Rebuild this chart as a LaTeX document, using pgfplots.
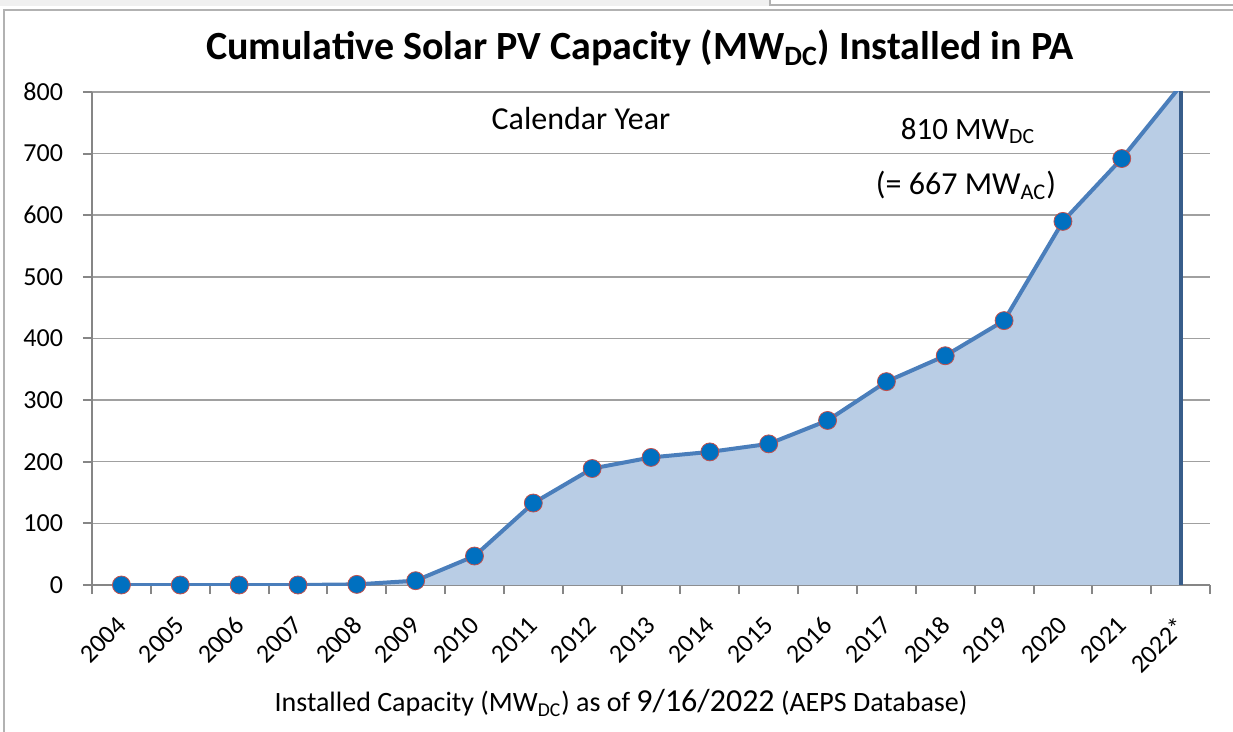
\documentclass[border=0pt]{standalone}
\usepackage{pgfplots}
\pgfplotsset{compat=1.18}
\usepackage{fontspec}
\setmainfont{Carlito}
\definecolor{areafill}{HTML}{B9CDE5}
\definecolor{linecol}{HTML}{4A7EBB}
\definecolor{edgecol}{HTML}{385D8A}
\definecolor{markfill}{HTML}{0070C0}
\definecolor{markdraw}{HTML}{C0504D}
\definecolor{axgray}{HTML}{868686}
\definecolor{gridgray}{HTML}{A0A0A0}
\begin{document}
\begin{tikzpicture}[x=0.5bp,y=0.5bp]
\useasboundingbox (0,0) rectangle (1233,731);
\begin{scope}
\clip (0,0) rectangle (1233,731);
\fill[gray!12] (0,731) rectangle (770,725);
\draw[gray!60, line width=0.8bp] (770,740) -- (770,726) -- (1240,726);
\draw[gray!60, line width=1bp] (4,-10) -- (4,721) -- (1240,721);
\end{scope}
\coordinate (O) at (92,146);
\begin{axis}[
  at={(O)}, anchor=south west,
  scale only axis, width=559bp, height=246.5bp,
  xmin=-0.5, xmax=18.5, ymin=0, ymax=800,
  axis x line=bottom, axis y line=left,
  axis line style={-, draw=axgray, line width=1bp},
  ytick={0,100,...,800},
  ymajorgrids, grid style={gridgray, line width=0.75bp},
  xtick={-0.5,0.5,...,18.5}, xticklabels={,,,,,,,,,,,,,,,,,,,,},
  extra x ticks={0,...,18},
  extra x tick labels={2004,2005,2006,2007,2008,2009,2010,2011,2012,2013,2014,2015,2016,2017,2018,2019,2020,2021,2022*},
  extra x tick style={major tick length=0pt, grid=none,
     tick label style={xshift=-3bp, yshift=-10bp, rotate=45, anchor=north east, font=\fontsize{13bp}{15bp}\selectfont}},
  tick align=outside, major tick length=4.5bp,
  tick style={draw=axgray, line width=1bp},
  yticklabel style={font=\fontsize{13bp}{15bp}\selectfont, xshift=-6.5bp},
  /pgf/number format/assume math mode=true,
  clip=true,
]
\addplot[fill=areafill, draw=none] coordinates {
(0,0) (1,0) (2,0) (3,0) (4,1) (5,7) (6,47) (7,133) (8,189) (9,207) (10,216) (11,229) (12,267) (13,330) (14,372) (15,429) (16,590) (17,692) (18,810)} \closedcycle;
\addplot[draw=edgecol, line width=2bp] coordinates {(18,0) (18,810)};
\addplot[draw=linecol, line width=2bp] coordinates {
(0,0) (1,0) (2,0) (3,0) (4,1) (5,7) (6,47) (7,133) (8,189) (9,207) (10,216) (11,229) (12,267) (13,330) (14,372) (15,429) (16,590) (17,692) (18,810)};
\addplot[only marks, mark=*, mark size=4.5bp, mark options={fill=markfill, draw=markdraw, line width=0.4bp}] coordinates {
(0,0) (1,0) (2,0) (3,0) (4,1) (5,7) (6,47) (7,133) (8,189) (9,207) (10,216) (11,229) (12,267) (13,330) (14,372) (15,429) (16,590) (17,692)};
\end{axis}
\node[font=\fontsize{20bp}{24bp}\selectfont\bfseries] at (640,683) {Cumulative Solar PV Capacity (MW\textsubscript{DC}) Installed in PA};
\node[font=\fontsize{16bp}{18bp}\selectfont] at (581,612) {Calendar Year};
\node[font=\fontsize{15.5bp}{18bp}\selectfont] at (968,600) {810 MW\textsubscript{DC}};
\node[font=\fontsize{16bp}{18bp}\selectfont] at (966,546) {(= 667 MW\textsubscript{AC})};
\node[font=\fontsize{14bp}{16bp}\selectfont] at (621,28) {Installed Capacity (MW\textsubscript{DC}) as of {\fontsize{16bp}{18bp}\selectfont 9/16/2022} (AEPS Database)};
\end{tikzpicture}
\end{document}
